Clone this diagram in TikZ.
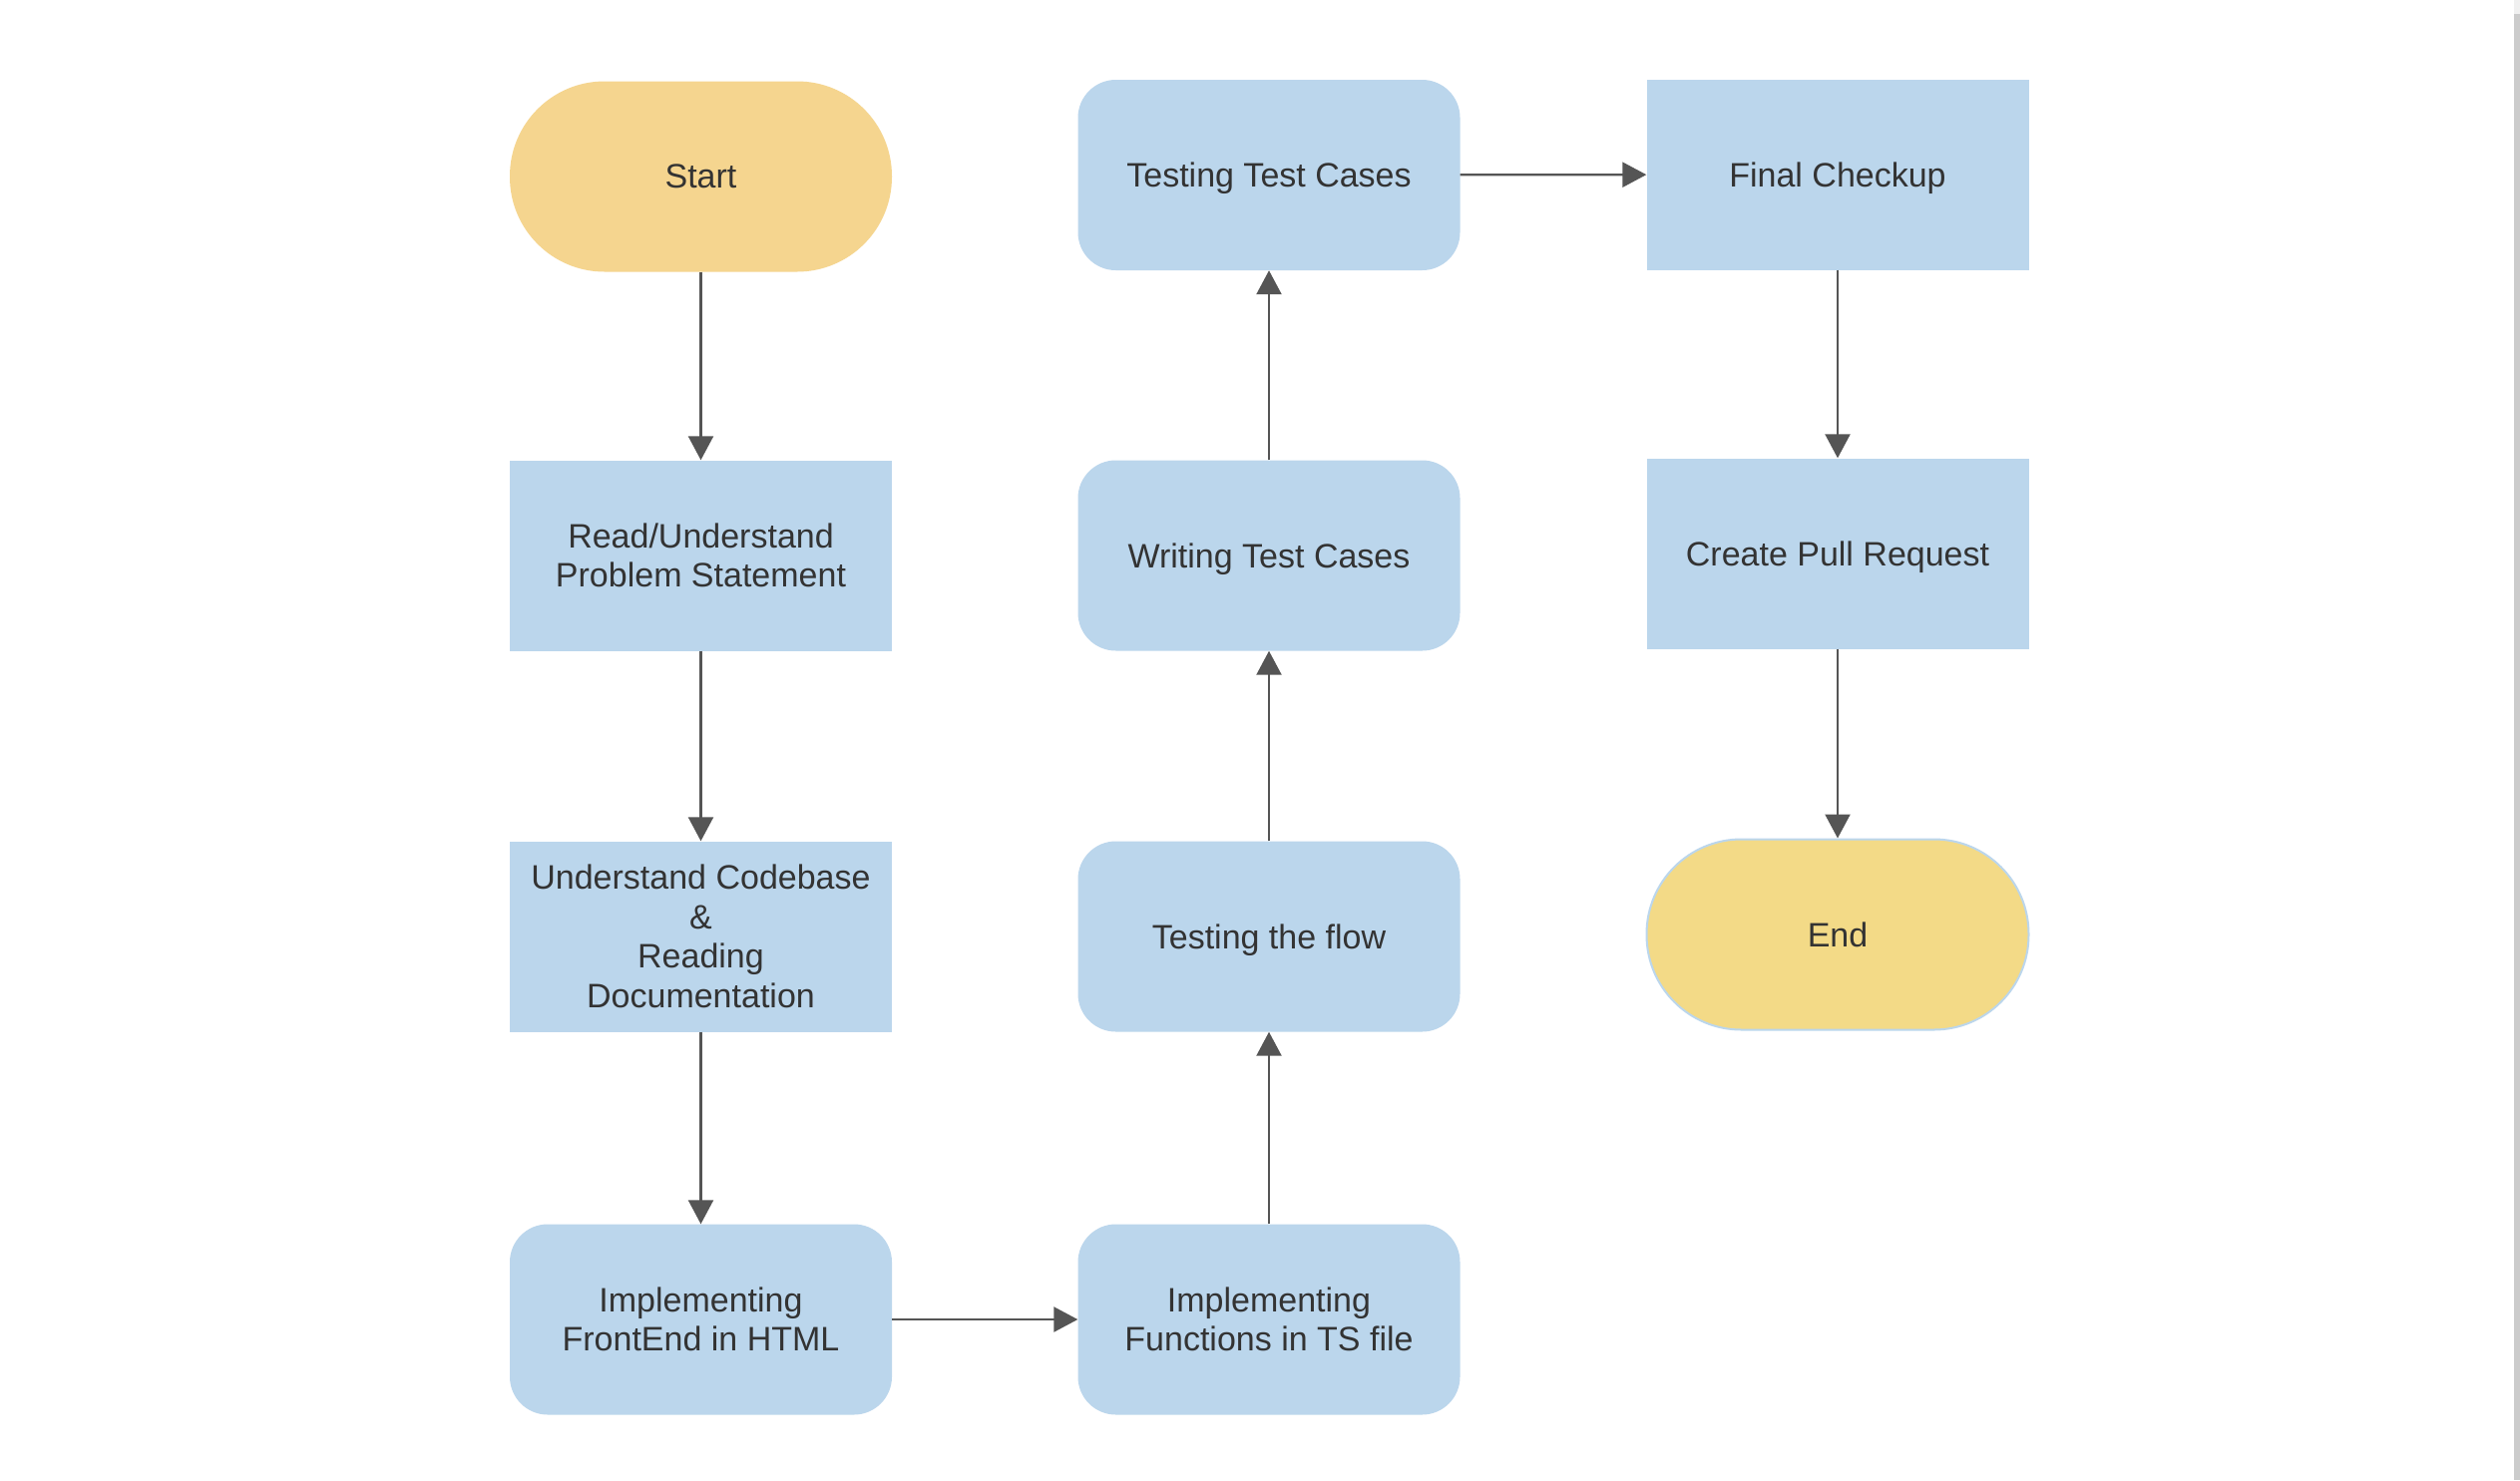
\documentclass[tikz,border=0pt]{standalone}
\usepackage{fontspec}
\setmainfont{Liberation Sans}
\usetikzlibrary{arrows.meta}
\definecolor{boxblue}{HTML}{BBD6EC}
\definecolor{startyel}{HTML}{F5D58F}
\definecolor{endyel}{HTML}{F3DA87}
\definecolor{txt}{HTML}{333333}
\definecolor{arr}{HTML}{555555}
\tikzset{
  base/.style={minimum width=383pt, minimum height=191pt, inner sep=0pt, align=center,
    text=txt, font=\fontsize{34}{39.5}\selectfont},
  one/.style={text depth=0pt},
  sqbox/.style={base, fill=boxblue},
  rbox/.style={base, fill=boxblue, rounded corners=38pt},
  term/.style={base, rounded corners=95pt},
  flow/.style={draw=arr, line width=2.3pt, -{Triangle[length=24pt,width=25pt]}},
}
\begin{document}
\begin{tikzpicture}[x=1pt,y=-1pt]
\useasboundingbox (0,0) rectangle (2526,1484);
\fill[white] (0,0) rectangle (2526,1484);
% scrollbar
\fill[black!6] (2520,0) rectangle (2526,14);
\fill[black!20] (2520,14) rectangle (2526,1484);
% column 1
\node[term, one, fill=startyel] (start) at (702.5,177) {Start};
\node[sqbox] (read) at (702.5,557) {Read/Understand\\Problem Statement};
\node[sqbox] (code) at (702.5,939) {Understand Codebase\\\&\\Reading\\Documentation};
\node[rbox] (html) at (702.5,1323) {Implementing\\FrontEnd in HTML};
% column 2
\node[rbox] (ts) at (1272,1323) {Implementing\\Functions in TS file};
\node[rbox, one] (flow) at (1272,939) {Testing the flow};
\node[rbox, one] (write) at (1272,557) {Writing Test Cases};
\node[rbox, one] (testtc) at (1272,175.5) {Testing Test Cases};
% column 3
\node[sqbox, one] (final) at (1842,175) {Final Checkup};
\node[sqbox, one] (pr) at (1842,555) {Create Pull Request};
\node[term, one, fill=endyel, draw=boxblue, line width=2pt] (end) at (1842,937) {End};
% connectors
\draw[flow] (start) -- (read);
\draw[flow] (read) -- (code);
\draw[flow] (code) -- (html);
\draw[flow] (html) -- (ts);
\draw[flow] (ts) -- (flow);
\draw[flow] (flow) -- (write);
\draw[flow] (write) -- (testtc);
\draw[flow] (testtc) -- (final);
\draw[flow] (final) -- (pr);
\draw[flow] (pr) -- (end);
\end{tikzpicture}
\end{document}
